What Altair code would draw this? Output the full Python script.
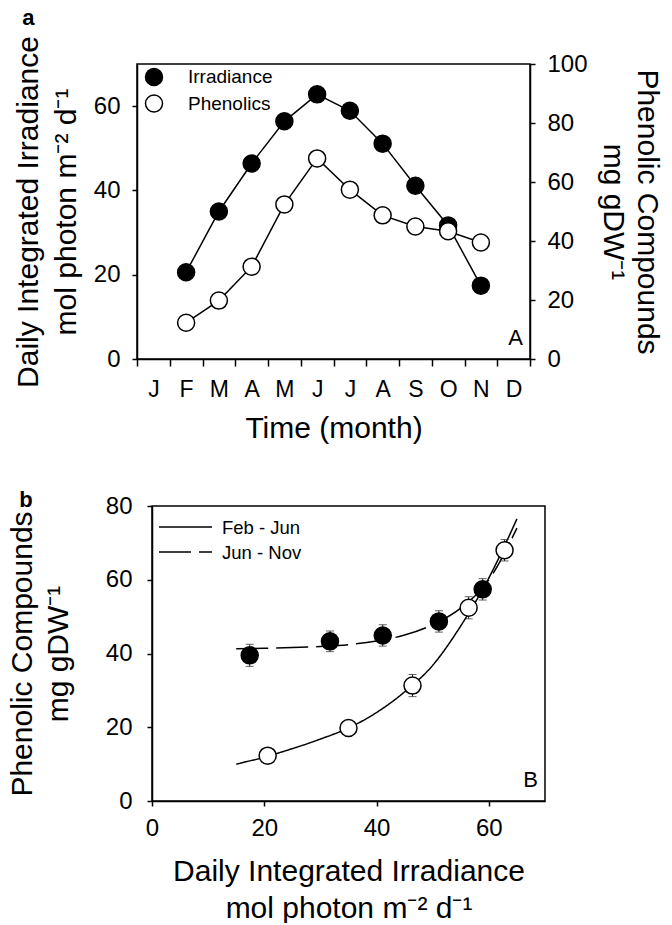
import altair as alt
import pandas as pd

FONT = "Liberation Sans"

# ---------------- data ----------------
month_letters = ["J", "F", "M", "A", "M", "J", "J", "A", "S", "O", "N", "D"]
sample_months = ["Feb", "Mar", "Apr", "May", "Jun", "Jul", "Aug", "Sep", "Oct", "Nov"]
sample_month_number = [2, 3, 4, 5, 6, 7, 8, 9, 10, 11]
irradiance = [20.6, 35.0, 46.4, 56.4, 62.8, 58.9, 51.1, 41.1, 31.7, 17.4]
phenolics = [12.3, 19.8, 31.3, 52.4, 68.0, 57.4, 48.7, 44.9, 43.3, 39.5]
phenolics_err = [1.0, 1.0, 3.0, 3.0, 2.9, 2.9, 2.9, 2.9, 2.8, 3.0]
period = ["Feb - Jun"] * 5 + ["Jun - Nov"] * 5

fit_x = [15, 20, 25, 30, 35, 40, 45, 50, 55, 60, 65]
fit_feb_jun = [10.0, 11.9, 14.2, 16.8, 19.8, 24.0, 29.6, 36.8, 47.5, 60.5, 76.5]
fit_jun_nov = [41.3, 41.4, 41.6, 41.9, 42.4, 43.4, 45.0, 47.8, 52.3, 60.0, 74.0]

series_names = ["Irradiance", "Phenolics"]
period_names = ["Feb - Jun", "Jun - Nov"]
dash_styles = [[1, 0], [32, 8]]

W, H = 393, 295
OFF = 15          # panel b's plot sits a little further right than panel a's
TICK_FS = 24
TITLE_FS = 30

# ---------------- tables ----------------
pos = [m - 0.5 for m in sample_month_number]  # centre of the month band
irr_df = pd.DataFrame({"pos": pos, "val": irradiance, "series": series_names[0]})
phen_df = pd.DataFrame({"pos": pos, "val": phenolics, "series": series_names[1]})

scat = pd.DataFrame({
    "irr": irradiance,
    "phen": phenolics,
    "lo": [p - e for p, e in zip(phenolics, phenolics_err)],
    "hi": [p + e for p, e in zip(phenolics, phenolics_err)],
    "period": period,
})
fit_df = pd.concat([
    pd.DataFrame({"x": fit_x, "y": fit_feb_jun, "period": period_names[0]}),
    pd.DataFrame({"x": fit_x, "y": fit_jun_nov, "period": period_names[1]}),
])
one = pd.DataFrame({"k": [0]})

# ---------------- panel a ----------------
label_expr = "[" + ",".join("'%s'" % m for m in month_letters + [""]) + "][datum.value]"

x_top = alt.X(
    "pos:Q",
    scale=alt.Scale(domain=[0, 12], nice=False, zero=False),
    axis=alt.Axis(
        values=list(range(13)), labelExpr=label_expr, labelOffset=W / 24,
        labelFlush=False, labelOverlap=False, tickSize=7, labelPadding=12,
        labelFontSize=23, title="Time (month)", titleFontSize=TITLE_FS, titlePadding=12,
    ),
)
fill_scale = alt.Scale(domain=series_names, range=["black", "white"])
legend_a = alt.Legend(
    title=None, orient="none", legendX=7.5, legendY=3.5, symbolType="circle", symbolSize=290,
    symbolStrokeColor="black", symbolStrokeWidth=1.5, labelFontSize=19,
    labelFont=FONT, rowPadding=1.5, labelOffset=24.5, padding=0,
)

y_left = alt.Y(
    "val:Q",
    scale=alt.Scale(domain=[0, 70], nice=False),
    axis=alt.Axis(
        values=[0, 20, 40, 60], orient="left", tickSize=5, labelPadding=12,
        labelFontSize=TICK_FS, title=["Daily Integrated Irradiance", "mol photon m\u207b\u00b2 d\u207b\u00b9"],
        titleFontSize=TITLE_FS, titleLineHeight=38, titlePadding=12,
    ),
)
y_right = alt.Y(
    "val:Q",
    scale=alt.Scale(domain=[0, 100], nice=False),
    axis=alt.Axis(
        values=[0, 20, 40, 60, 80, 100], orient="right", tickSize=5, labelPadding=12,
        labelFontSize=TICK_FS, title=["Phenolic Compounds", "mg gDW\u207b\u00b9"],
        titleFontSize=TITLE_FS, titleLineHeight=34, titlePadding=10,
    ),
)

irr_line = alt.Chart(irr_df).mark_line(color="black", strokeWidth=1.5).encode(x=x_top, y=y_left)
irr_pts = alt.Chart(irr_df).mark_circle(size=290, stroke="black", strokeWidth=1.5, opacity=1).encode(
    x=x_top, y=y_left, fill=alt.Fill("series:N", scale=fill_scale, legend=legend_a)
)
phen_line = alt.Chart(phen_df).mark_line(color="black", strokeWidth=1.5).encode(x=x_top, y=y_right)
phen_pts = alt.Chart(phen_df).mark_circle(size=290, stroke="black", strokeWidth=1.5, opacity=1).encode(
    x=x_top, y=y_right, fill=alt.Fill("series:N", scale=fill_scale, legend=legend_a)
)
tag_a = alt.Chart(one).mark_text(
    text="A", font=FONT, fontSize=22, align="right", baseline="bottom"
).encode(x=alt.value(W - 7), y=alt.value(H - 9))

left_part = alt.layer(irr_line, irr_pts, tag_a)
right_part = alt.layer(phen_line, phen_pts)
panel_a = alt.layer(left_part, right_part).resolve_scale(y="independent").properties(
    width=W, height=H,
    title=alt.TitleParams("a", anchor="start", frame="bounds", fontSize=22, fontWeight="bold",
                          font=FONT, color="black", dx=9, offset=6),
)

# ---------------- panel b ----------------
x_scale_b = alt.Scale(domain=[0, 70], nice=False, range=[OFF, OFF + W])
y_scale_b = alt.Scale(domain=[0, 80], nice=False)
x_bot = alt.X(
    "irr:Q",
    scale=x_scale_b,
    axis=alt.Axis(
        values=[0, 20, 40, 60], tickSize=5, labelPadding=10, labelFontSize=TICK_FS,
        labelFlush=False,
        title=["Daily Integrated Irradiance", "mol photon m\u207b\u00b2 d\u207b\u00b9"],
        titleFontSize=TITLE_FS, titleLineHeight=37, titlePadding=16,
    ),
)
y_bot = alt.Y(
    "phen:Q",
    scale=y_scale_b,
    axis=alt.Axis(
        values=[0, 20, 40, 60, 80], tickSize=5, labelPadding=15, labelFontSize=TICK_FS,
        offset=-OFF,
        title=["Phenolic Compounds", "mg gDW\u207b\u00b9"], titleFontSize=TITLE_FS,
        titleLineHeight=36, titlePadding=32,
    ),
)
frame_b = alt.Chart(one).mark_rect(
    fill="white", fillOpacity=0, stroke="black", strokeWidth=1.5
).encode(x=alt.value(OFF), x2=alt.value(OFF + W), y=alt.value(0), y2=alt.value(H))

curves = alt.Chart(fit_df).mark_line(color="black", strokeWidth=1.5, interpolate="monotone").encode(
    x=alt.X("x:Q", scale=x_scale_b),
    y=alt.Y("y:Q", scale=y_scale_b),
    strokeDash=alt.StrokeDash(
        "period:N", scale=alt.Scale(domain=period_names, range=dash_styles), legend=None
    ),
)
err_rule = alt.Chart(scat).mark_rule(color="#222", strokeWidth=1).encode(
    x=x_bot, y=alt.Y("lo:Q"), y2="hi:Q"
)
err_lo = alt.Chart(scat).mark_tick(color="#222", orient="horizontal", size=8, thickness=1).encode(
    x=x_bot, y=alt.Y("lo:Q")
)
err_hi = alt.Chart(scat).mark_tick(color="#222", orient="horizontal", size=8, thickness=1).encode(
    x=x_bot, y=alt.Y("hi:Q")
)
pts_black = alt.Chart(scat).transform_filter(alt.datum.period == period_names[1]).mark_circle(
    size=290, stroke="black", strokeWidth=1.5, fill="black", opacity=1
).encode(x=x_bot, y=y_bot)
pts_white = alt.Chart(scat).transform_filter(alt.datum.period == period_names[0]).mark_circle(
    size=290, stroke="black", strokeWidth=1.5, fill="white", opacity=1
).encode(x=x_bot, y=y_bot)
tag_b = alt.Chart(one).mark_text(
    text="B", font=FONT, fontSize=22, align="right", baseline="bottom"
).encode(x=alt.value(OFF + W - 7), y=alt.value(H - 9))

# legend of the two fitted curves (inside the top-left corner of panel b)
legend_layers = []
for i, (name, dash) in enumerate(zip(period_names, dash_styles)):
    ypix = 21 + 25 * i
    legend_layers.append(
        alt.Chart(one).mark_rule(color="black", strokeWidth=1.5, strokeDash=dash).encode(
            x=alt.value(OFF + 7), x2=alt.value(OFF + 60), y=alt.value(ypix)
        )
    )
    legend_layers.append(
        alt.Chart(one).mark_text(
            text=name, font=FONT, fontSize=18.5, align="left", baseline="middle", color="black"
        ).encode(x=alt.value(OFF + 70), y=alt.value(ypix + 1))
    )

panel_b = alt.layer(frame_b, curves, err_rule, err_lo, err_hi, pts_black, pts_white, tag_b,
                    *legend_layers).properties(
    width=W + OFF, height=H,
    view=alt.ViewBackground(stroke=None),
    title=alt.TitleParams("b", anchor="start", frame="bounds", fontSize=22, fontWeight="bold",
                          font=FONT, color="black", dx=12, offset=-18),
)

chart = alt.concat(panel_a, panel_b, columns=1, spacing=45, align="none").resolve_scale(
    fill="independent", strokeDash="independent", x="independent", y="independent"
).properties(
    padding={"left": 7, "top": 5, "right": 5, "bottom": 0}
).configure_view(
    stroke="black", strokeWidth=1.5
).configure_axis(
    grid=False, domainColor="black", domainWidth=1.5, tickColor="black", tickWidth=1.5,
    labelColor="black", titleColor="black", labelFont=FONT, titleFont=FONT,
    titleFontWeight="normal",
).configure_legend(labelColor="black").configure_title(font=FONT)

chart.save("out.html", embed_options={"renderer": "svg", "actions": False})
